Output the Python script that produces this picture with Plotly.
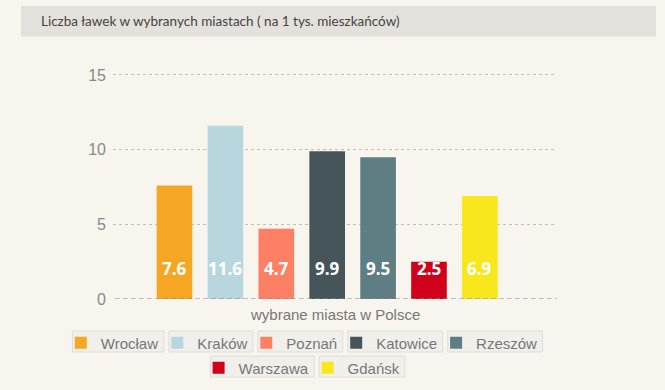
import plotly.graph_objects as go

cities = ["Wrocław", "Kraków", "Poznań", "Katowice", "Rzeszów", "Warszawa", "Gdańsk"]
values = [7.6, 11.6, 4.7, 9.9, 9.5, 2.5, 6.9]
colors = ["#f5a623", "#b8d6dd", "#fd8064", "#455559", "#5f7e84", "#d0021b", "#f8e71c"]
title_text = "Liczba ławek w wybranych miastach ( na 1 tys. mieszkańców)"
x_title = "wybrane miasta w Polsce"
y_ticks = [0, 5, 10, 15]

W, H = 665, 390
Y_TOP = 15.2
UNIT = 224 / 15.0
L, R, B = 113, 557, 299
T = B - Y_TOP * UNIT
pw, ph = R - L, B - T

def px(x):
    return (x - L) / pw

def py(y):
    return (B - y) / ph

# legend item layout in px: box (x0, x1, y0, y1)
leg_boxes = [(72.4, 163.9, 331, 352), (168.9, 252.9, 331, 352), (257.9, 342.8, 331, 352),
             (347.8, 442.7, 331, 352), (447.7, 542.5, 331, 352),
             (210.2, 314.2, 356, 377), (319.2, 404.9, 356, 377)]

fig = go.Figure()
for i, (c, v, col) in enumerate(zip(cities, values, colors)):
    lname = "legend" if i == 0 else f"legend{i+1}"
    fig.add_trace(go.Bar(
        x=[i], y=[v], name=c, marker_color=col, marker_line_width=0,
        width=0.70, legend=lname, hoverinfo="name+y",
    ))
    fig.add_annotation(
        x=i, y=0, xref="x", yref="y", text=f"<b>{v}</b>", showarrow=False,
        yanchor="middle", yshift=31,
        font=dict(family="Open Sans", size=17, color="#ffffff"),
    )

legends = {}
for i, (x0, x1, y0, y1) in enumerate(leg_boxes):
    key = "legend" if i == 0 else f"legend{i+1}"
    cy = (y0 + y1) / 2
    legends[key] = dict(
        x=px(x0 - 1.6), y=py(cy - 15), xanchor="left", yanchor="top",
        orientation="h", bgcolor="rgba(0,0,0,0)", borderwidth=0,
        indentation=-10,
        font=dict(family="Liberation Sans", size=15, color="#777777"),
        itemclick=False, itemdoubleclick=False,
    )
    fig.add_shape(type="rect", xref="paper", yref="paper",
                  x0=px(x0), x1=px(x1), y0=py(y1), y1=py(y0),
                  fillcolor="#f1efeb", line=dict(color="#e0ddd8", width=1),
                  layer="below")

fig.update_layout(**legends)

fig.add_shape(type="rect", xref="paper", yref="paper",
              x0=px(21), x1=px(656), y0=py(36.5), y1=py(6),
              fillcolor="#e4e1dc", line_width=0, layer="below")
fig.add_annotation(xref="paper", yref="paper", x=px(39), y=py(21),
                   xanchor="left", yanchor="middle", showarrow=False,
                   text=title_text,
                   font=dict(family="Lato", size=13.5, color="#444444"))
fig.add_annotation(xref="paper", yref="paper", x=0.5, y=0, yshift=-5,
                   xanchor="center", yanchor="top", showarrow=False,
                   text=x_title,
                   font=dict(family="Liberation Sans", size=15, color="#777777"))
fig.add_shape(type="line", xref="paper", yref="y", x0=px(115), x1=1, y0=0, y1=0,
              line=dict(color="#888888", width=1, dash="5px,3px"))

fig.update_layout(
    width=W, height=H,
    margin=dict(l=L, r=W - R, t=T, b=H - B, pad=0, autoexpand=False),
    paper_bgcolor="#f8f5ee", plot_bgcolor="#f8f5ee",
    showlegend=True,
    barmode="overlay",
    xaxis=dict(range=[-1.208, 7.515], showticklabels=False, showgrid=False,
               zeroline=False, showline=False, fixedrange=True),
    yaxis=dict(range=[0, Y_TOP], tickvals=y_ticks, ticktext=[str(t) for t in y_ticks],
               showgrid=True, gridcolor="#c2beb6", griddash="3px,3px", gridwidth=1,
               zeroline=False, showline=False, ticks="", ticklabelstandoff=6,
               tickfont=dict(family="Liberation Sans", size=16, color="#888888"),
               fixedrange=True),
)

fig.write_html(
    "out.html",
    config={"displayModeBar": False},
    post_script="document.body.style.margin='0';document.body.style.background='#f8f5ee';",
)
